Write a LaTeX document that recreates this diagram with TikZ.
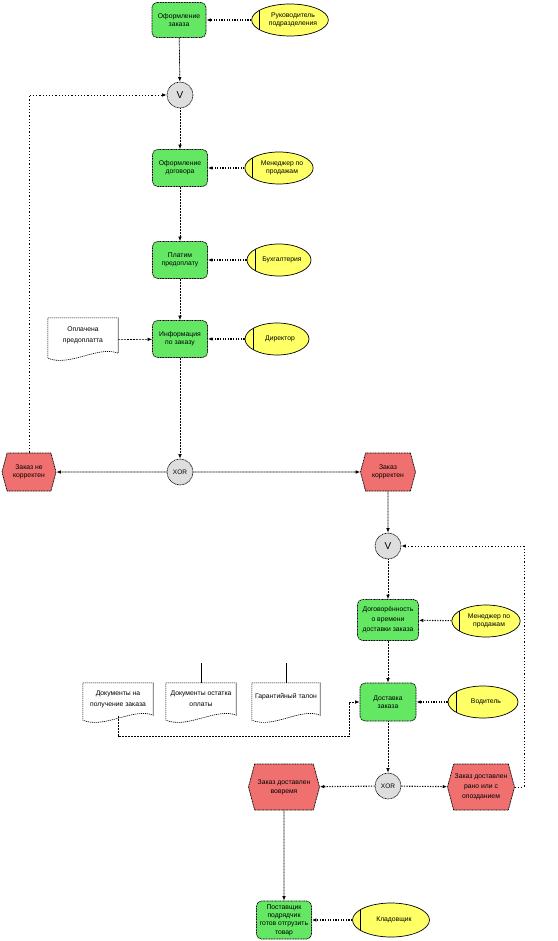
\documentclass[tikz,border=0pt]{standalone}
\usepackage{fontspec}
\setmainfont{Liberation Sans}
\usetikzlibrary{shapes.geometric,shapes.symbols,arrows.meta}
\definecolor{fgreen}{RGB}{100,232,100}
\definecolor{ered}{RGB}{240,112,112}
\definecolor{oyel}{RGB}{255,255,102}
\definecolor{ggray}{RGB}{222,222,222}
\newcommand{\docoutline}[1]{%
  \draw[docborder] (#1.north west) -- (#1.north east) -- ([yshift=9pt]#1.south east)
    .. controls ([xshift=-20pt,yshift=17pt]#1.south east) and ([xshift=22pt,yshift=-5pt]#1.south west)
    .. ([yshift=4pt]#1.south west) -- cycle;}
\begin{document}
\begin{tikzpicture}[x=1pt,y=-1pt,
  font=\fontsize{6.8}{8.3}\selectfont,
  func/.style={draw, rounded corners=5pt, fill=fgreen, line width=0.7pt,
    dash pattern=on 1pt off 0.6pt, align=center, inner sep=1pt,
    minimum width=55pt, minimum height=37pt},
  evt/.style={draw, signal, signal to=east and west, signal pointer angle=150,
    fill=ered, line width=0.7pt, dash pattern=on 1pt off 0.6pt, align=center,
    inner sep=1pt, minimum width=55pt, minimum height=38pt},
  org/.style={draw, ellipse, fill=oyel, line width=0.7pt, align=center,
    inner sep=0pt, minimum width=64pt, minimum height=32pt,
    path picture={\draw[line width=0.8pt]
      ([xshift=8pt]path picture bounding box.north west) --
      ([xshift=8pt]path picture bounding box.south west);}},
  gate/.style={draw, circle, fill=ggray, line width=0.6pt,
    dash pattern=on 1pt off 0.6pt, minimum size=26pt, inner sep=0pt},
  docu/.style={rectangle, align=center, inner sep=1pt,
    minimum width=70pt, minimum height=42pt},
  docborder/.style={line width=0.6pt, dash pattern=on 1.2pt off 0.8pt},
  flow/.style={line width=0.7pt, dash pattern=on 1pt off 0.5pt,
    -{Latex[length=4.5pt,width=3.5pt]}},
  orgl/.style={line width=1.1pt, dash pattern=on 1.2pt off 1.4pt,
    -{Latex[length=4.5pt,width=3.5pt]}},
  loopl/.style={line width=0.9pt, dash pattern=on 1.2pt off 2pt,
    -{Latex[length=4.5pt,width=3.5pt]}},
  docl/.style={line width=0.6pt, dash pattern=on 2pt off 1pt,
    -{Latex[length=4.5pt,width=3.5pt]}},
  stub/.style={line width=0.7pt}
]
\useasboundingbox (0,0) rectangle (557,941);

% column 1
\node[func, minimum width=54pt, minimum height=35pt] (f1) at (179,20) {Оформление\\заказа};
\node[org, minimum width=68pt] (ruk) at (290,20) {\hspace*{6pt}Руководитель\\\hspace*{6pt}подразделения};
\node[gate, font=\fontsize{10}{10}\selectfont] (v1) at (180,95) {V};
\node[func] (f2) at (180,168) {Оформление\\договора};
\node[org] (men1) at (279,168) {\hspace*{6pt}Менеджер по\\\hspace*{6pt}продажам};
\node[func] (f3) at (180,260) {Платим\\предоплату};
\node[org] (buh) at (279,260) {\hspace*{6pt}Бухгалтерия};
\node[func] (f4) at (180,339) {Информация\\по заказу};
\node[org] (dir) at (277,339) {\hspace*{6pt}Директор};
\node[docu, minimum height=44pt] (doc0) at (83,340) {Оплачена\\[3pt]предоплатта\\[2pt]};
\docoutline{doc0}
\node[gate, font=\fontsize{6.5}{6.5}\selectfont] (x1) at (180,472) {XOR};
\node[evt, minimum width=54pt] (evno) at (29,472) {Заказ не\\корректен};
\node[evt] (evyes) at (388,472) {Заказ\\корректен};

% column 2
\node[gate, font=\fontsize{10}{10}\selectfont] (v2) at (388,546) {V};
\node[func, minimum width=61pt, minimum height=41pt] (f5) at (388,620) {Договорённость\\[1.5pt]о времени\\[1.5pt]доставки заказа};
\node[org] (men2) at (486,621) {\hspace*{6pt}Менеджер по\\\hspace*{6pt}продажам};
\node[func, minimum width=56pt, minimum height=38pt] (f6) at (388,702) {Доставка\\заказа};
\node[org, minimum width=70pt] (vod) at (483,702) {\hspace*{6pt}Водитель};
\node[docu, minimum height=41pt] (doc1) at (118,703.5) {Документы на\\[3pt]получение заказа\\[2pt]};
\docoutline{doc1}
\node[docu, minimum height=41pt] (doc2) at (201,703.5) {Документы остатка\\[3pt]оплаты\\[2pt]};
\docoutline{doc2}
\node[docu, minimum height=41pt, minimum width=68pt] (doc3) at (286,703.5) {Гарантийный талон\\[6pt]};
\docoutline{doc3}
\node[gate, font=\fontsize{6.5}{6.5}\selectfont] (x2) at (388,786) {XOR};
\node[evt, minimum width=71pt, minimum height=46pt] (evon) at (284,787) {Заказ доставлен\\[1pt]вовремя};
\node[evt, minimum width=65pt, minimum height=46pt] (evlate) at (481,787) {Заказ доставлен\\[1.5pt]рано или с\\[1.5pt]опозданием};
\node[func, minimum height=38pt] (f7) at (284,920) {Поставщик\\подрядчик\\готов отгрузить\\товар};
\node[org, minimum width=77pt, minimum height=34pt] (klad) at (391,920) {\hspace*{6pt}Кладовщик};

% free ends
\coordinate (s2) at (201,663);
\coordinate (s3) at (286,663);
\coordinate (lp1) at (29,95);
\coordinate (d1a) at (118,736);
\coordinate (d1b) at (349,736);
\coordinate (d1c) at (349,702);
\coordinate (lp2a) at (524,787);
\coordinate (lp2b) at (524,546);

% connectors
\draw[orgl] (ruk) -- (f1);
\draw[flow] (f1) -- (v1);
\draw[flow] (v1) -- (f2);
\draw[orgl] (men1) -- (f2);
\draw[flow] (f2) -- (f3);
\draw[orgl] (buh) -- (f3);
\draw[flow] (f3) -- (f4);
\draw[orgl] (dir) -- (f4);
\draw[docl] (doc0) -- (f4);
\draw[flow] (f4) -- (x1);
\draw[flow] (x1) -- (evno);
\draw[flow] (x1) -- (evyes);
\draw[loopl] (evno.north) -- (lp1) -- (v1);
\draw[flow] (evyes) -- (v2);
\draw[flow] (v2) -- (f5);
\draw[orgl] (men2) -- (f5);
\draw[flow] (f5) -- (f6);
\draw[orgl] (vod) -- (f6);
\draw[docl] ([yshift=8pt]doc1.south) -- (d1a) -- (d1b) -- (d1c) -- (f6);
\draw[stub] (s2) -- (doc2.north);
\draw[stub] (s3) -- (doc3.north);
\draw[flow] (f6) -- (x2);
\draw[orgl] (x2) -- (evon);
\draw[orgl] (x2) -- (evlate);
\draw[loopl] (evlate.east) -- (lp2a) -- (lp2b) -- (v2);
\draw[flow] (evon) -- (f7);
\draw[orgl] (klad) -- (f7);
\end{tikzpicture}
\end{document}
